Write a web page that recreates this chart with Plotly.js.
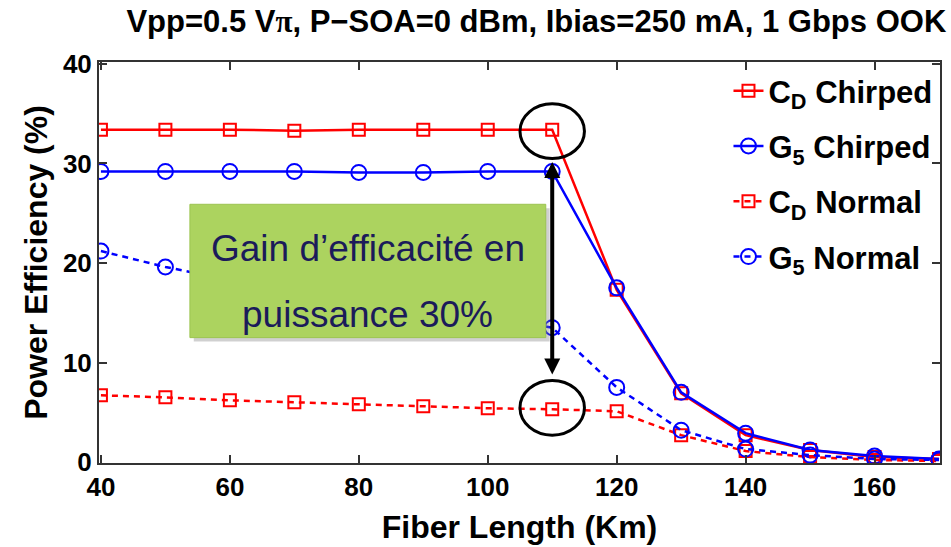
<!DOCTYPE html>
<html><head><meta charset="utf-8">
<script src="https://cdn.plot.ly/plotly-3.0.1.min.js"></script>
<style>html,body{margin:0;padding:0;background:#fff}</style>
</head><body>
<div id="chart" style="width:951px;height:547px"></div>
<script>
const fiberLength = [40,50,60,70,80,90,100,110,120,130,140,150,160,170];
const cdChirped = [33.4,33.4,33.4,33.3,33.4,33.4,33.4,33.4,17.3,6.9,2.7,1.2,0.5,0.3];
const g5Chirped = [29.2,29.2,29.2,29.2,29.1,29.1,29.2,29.2,17.5,7.0,2.9,1.2,0.6,0.3];
const cdNormal  = [6.7,6.5,6.2,6.0,5.8,5.6,5.4,5.3,5.1,2.7,1.1,0.5,0.2,0.1];
const g5Normal  = [21.2,19.6,18.3,17.3,16.4,15.5,14.5,13.5,7.5,3.2,1.3,0.7,0.3,0.2];
const seriesNames = ['C<sub>D</sub> Chirped','G<sub>5</sub> Chirped','C<sub>D</sub> Normal','G<sub>5</sub> Normal'];
const xTicks = [40,60,80,100,120,140,160];
const yTicks = [0,10,20,30,40];

const RED='#ff0000', BLUE='#0000ff';
function tr(y, name, color, dash, sym, size, g){
  return {x:fiberLength, y:y, name:name, type:'scatter', mode:'lines+markers', legendgroup:g,
    line:{color:color, width:2.5, dash:dash},
    marker:{symbol:sym, size:size, color:color, line:{color:color, width:2}}};
}
const data = [
  tr(cdChirped, seriesNames[0], RED, 'solid', 'square-open', 12, 'a'),
  tr(g5Chirped, seriesNames[1], BLUE, 'solid', 'circle-open', 15, 'b'),
  tr(cdNormal, seriesNames[2], RED, '6px,5px', 'square-open', 12, 'c'),
  tr(g5Normal, seriesNames[3], BLUE, '6px,5px', 'circle-open', 15, 'd')
];
const F = 'Liberation Sans, Arial, sans-serif';
const layout = {
  width:951, height:547,
  margin:{l:99, r:11, t:62, b:84},
  paper_bgcolor:'#fff', plot_bgcolor:'#fff',
  title:{text:'Vpp=0.5 V<span style="font-family:Liberation Serif">π</span>, P−SOA=0 dBm, Ibias=250 mA, 1 Gbps OOK',
    font:{family:F, size:31, color:'#000', weight:'bold'}, x:0.564, xanchor:'center', y:0.962, yanchor:'middle'},
  xaxis:{range:[39.7,170.15], tickvals:xTicks, ticktext:xTicks.map(String), ticks:'inside', ticklen:8, tickwidth:1.5,
    tickcolor:'#333', showline:true, linecolor:'#333', linewidth:2, mirror:'ticks', showgrid:false, zeroline:false,
    tickfont:{family:F, size:26, color:'#000', weight:'bold'},
    title:{text:'Fiber Length (Km)', font:{family:F, size:32, color:'#000', weight:'bold'}, standoff:14}},
  yaxis:{range:[-0.1,40.2], tickvals:yTicks, ticktext:yTicks.map(String), ticks:'inside', ticklen:8, tickwidth:1.5,
    tickcolor:'#333', showline:true, linecolor:'#333', linewidth:2, mirror:'ticks', showgrid:false, zeroline:false,
    tickfont:{family:F, size:26, color:'#000', weight:'bold'},
    title:{text:'Power Efficiency (%)', font:{family:F, size:32, color:'#000', weight:'bold'}, standoff:6}},
  legend:{x:0.997, xanchor:'right', y:0.995, yanchor:'top', bgcolor:'rgba(255,255,255,0)', borderwidth:0,
    font:{family:F, size:31, color:'#000', weight:'bold'}, tracegroupgap:12, itemwidth:30},
  showlegend:true,
  shapes:[
    {type:'rect', xref:'x', yref:'y', x0:54.4, x1:109.6, y0:12.1, y1:25.5, layer:'above',
      fillcolor:'rgba(120,120,120,0.35)', line:{width:0}},
    {type:'rect', xref:'x', yref:'y', x0:53.8, x1:109.0, y0:12.5, y1:25.9, layer:'above',
      fillcolor:'#acd35f', line:{color:'#9cc452', width:1}},
    {type:'circle', xref:'x', yref:'y', x0:105, x1:115, y0:30.5, y1:36.0, layer:'above',
      line:{color:'#000', width:3}, fillcolor:'rgba(0,0,0,0)'},
    {type:'circle', xref:'x', yref:'y', x0:105, x1:115, y0:2.7, y1:8.2, layer:'above',
      line:{color:'#000', width:3}, fillcolor:'rgba(0,0,0,0)'}
  ],
  annotations:[
    {xref:'x', yref:'y', x:81.4, y:21.5, text:'Gain d’efficacité en', showarrow:false,
      font:{family:'Liberation Sans Narrow, Liberation Sans, sans-serif', size:37, color:'#1b1b5a'}},
    {xref:'x', yref:'y', x:81.4, y:14.8, text:'puissance 30%', showarrow:false,
      font:{family:'Liberation Sans Narrow, Liberation Sans, sans-serif', size:37, color:'#1b1b5a'}},
    {xref:'x', yref:'y', axref:'x', ayref:'y', x:110, y:8.8, ax:110, ay:30.3, text:'', showarrow:true,
      arrowhead:2, startarrowhead:2, arrowside:'end+start', arrowwidth:4, arrowsize:0.8, startarrowsize:0.8, arrowcolor:'#000'}
  ]
};
Plotly.newPlot('chart', data, layout, {displayModeBar:false});
</script>
</body></html>
